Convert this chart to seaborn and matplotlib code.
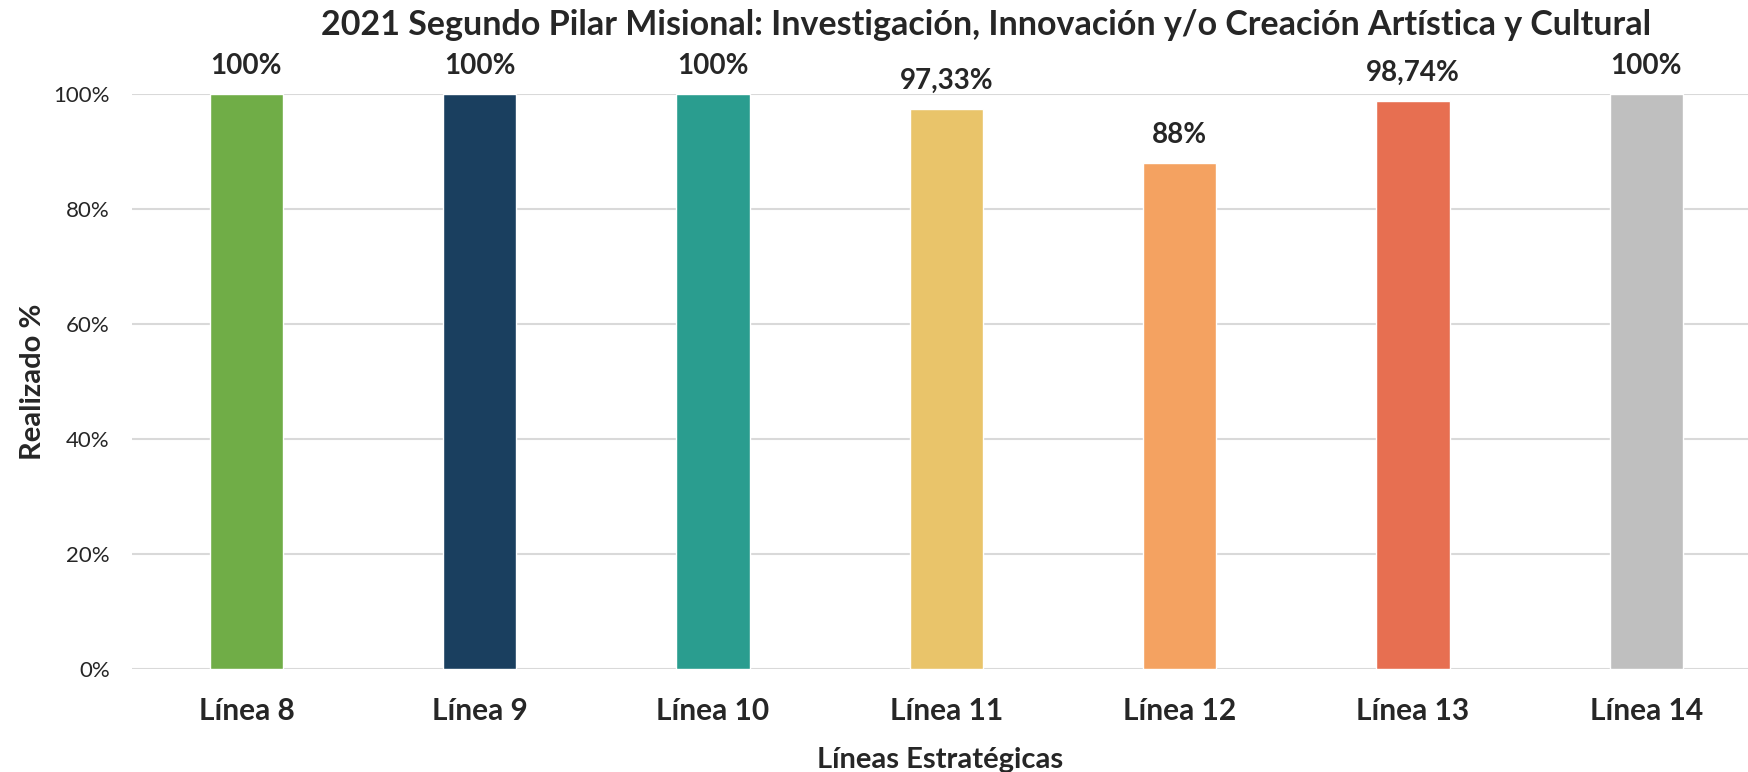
# 2021 Segundo Pilar Misional - bar chart of Realizado % per Línea

import numpy as np
import pandas as pd
import matplotlib
matplotlib.use("Agg")
import matplotlib.pyplot as plt
import seaborn as sns
from matplotlib.ticker import PercentFormatter

# data -------------------------------------------------------------------------
lineas = ["Línea 8", "Línea 9", "Línea 10", "Línea 11", "Línea 12", "Línea 13", "Línea 14"]
realizado = [100, 100, 100, 97.33, 88, 98.74, 100]
colores = ["#70AD47", "#1A3F5F", "#2A9D8F", "#E9C46A", "#F4A261", "#E76F51", "#BFBFBF"]
yticks = [0, 20, 40, 60, 80, 100]

df = pd.DataFrame({"linea": lineas, "realizado": realizado})

# style ------------------------------------------------------------------------
sns.set_style("white")
plt.rcParams["font.family"] = ["Lato", "DejaVu Sans"]

fig = plt.figure(figsize=(17.49, 7.72), dpi=100)
ax = fig.add_axes([0.0755, 0.1334, 0.9245, 0.7448])

sns.barplot(data=df, x="linea", y="realizado", hue="linea", palette=colores,
            width=0.315, legend=False, ax=ax, saturation=1)

ax.set_ylim(0, 100)
ax.set_xlim(-0.49, 6.44)
ax.set_yticks(yticks)
ax.yaxis.set_major_formatter(PercentFormatter(decimals=0))
ax.grid(axis="y", color="#D9D9D9", linewidth=1.5)
ax.set_axisbelow(True)
for s in ax.spines.values():
    s.set_visible(False)
ax.tick_params(axis="both", length=0)
ax.tick_params(axis="y", labelsize=16, pad=16)
ax.tick_params(axis="x", pad=20)
for lab in ax.get_xticklabels():
    lab.set_fontsize(21.5)
    lab.set_fontweight("bold")

# data labels
for i, v in enumerate(realizado):
    txt = f"{v:g}".replace(".", ",") + "%"
    ax.annotate(txt, (i, v), xytext=(0, 11), textcoords="offset points",
                ha="center", va="bottom", fontsize=20, fontweight="bold",
                annotation_clip=False)

ax.set_xlabel("Líneas Estratégicas", fontsize=21, fontweight="bold", labelpad=16)
ax.set_ylabel("Realizado %", fontsize=21, fontweight="bold", labelpad=5)

fig.text(0.564, 0.967, "2021 Segundo Pilar Misional: Investigación, Innovación y/o Creación Artística y Cultural",
         ha="center", va="center", fontsize=24.5, fontweight="bold")

fig.savefig("out.png", dpi=100)
